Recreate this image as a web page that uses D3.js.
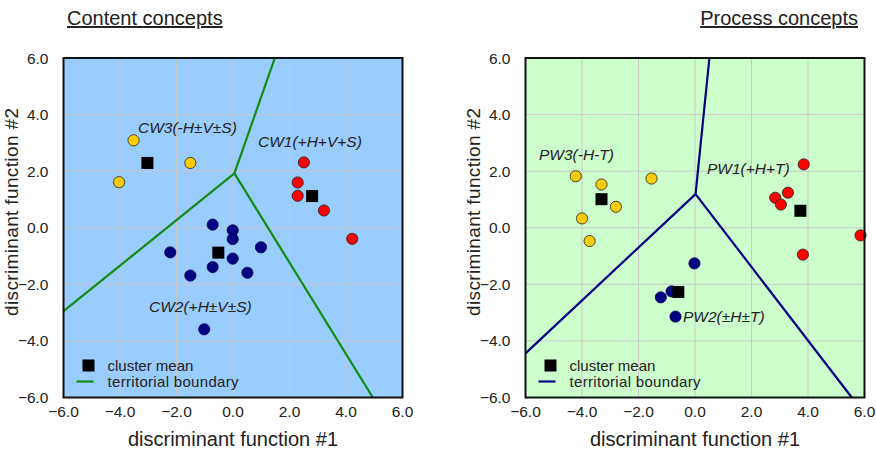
<!DOCTYPE html>
<html>
<head>
<meta charset="utf-8">
<script src="https://cdn.jsdelivr.net/npm/d3@7"></script>
<style>
  body { margin: 0; background: #fff; }
  text { font-family: "Liberation Sans", Arial, sans-serif; }
</style>
</head>
<body>
<script>
//size of the whole picture
var w = 876;
var h = 456;

//tick values, same on both axes
var ticks = [-6, -4, -2, 0, 2, 4, 6];

//content concepts (left panel)
var cw1 = [[2.51, 2.31], [2.29, 1.60], [2.29, 1.13], [3.22, 0.61], [4.22, -0.39]];
var cw2 = [[-0.72, 0.11], [-0.01, -0.09], [-0.01, -0.40], [0.99, -0.69], [-2.22, -0.87],
           [-0.72, -1.39], [-0.01, -1.09], [-1.51, -1.69], [0.51, -1.59], [-1.02, -3.59]];
var cw3 = [[-3.52, 3.09], [-1.51, 2.29], [-4.03, 1.61]];
var cwMeans = [[2.80, 1.12], [-0.52, -0.88], [-3.03, 2.29]];
var cwJunction = [0.05, 1.92];
var cwEnds = [[1.48, 6.0], [-6.0, -2.95], [4.95, -6.0]];
var cwLabels = ["CW1(+H+V+S)", "CW2(+H\u00b1V\u00b1S)", "CW3(-H\u00b1V\u00b1S)"];

//process concepts (right panel)
var pw1 = [[3.85, 2.24], [3.29, 1.24], [2.84, 1.06], [3.04, 0.82], [5.86, -0.27], [3.82, -0.95]];
var pw2 = [[-0.02, -1.26], [-0.83, -2.25], [-1.21, -2.46], [-0.69, -3.14]];
var pw3 = [[-4.22, 1.82], [-3.31, 1.53], [-1.54, 1.74], [-2.80, 0.74], [-4.0, 0.33], [-3.73, -0.47]];
var pwMeans = [[3.73, 0.60], [-0.59, -2.27], [-3.31, 1.01]];
var pwJunction = [0.02, 1.19];
var pwEnds = [[0.51, 6.0], [-6.0, -4.44], [5.55, -6.0]];
var pwLabels = ["PW1(+H+T)", "PW2(\u00b1H\u00b1T)", "PW3(-H-T)"];

//cluster colours: 1 red, 2 navy, 3 yellow
var dotColors = ["#ff0000", "#000080", "#ffcc00"];

var svg = d3.select("body")
            .append("svg")
            .attr("width", w)
            .attr("height", h);

function drawPanel(opt) {
    var xScale = d3.scaleLinear().domain([-6, 6]).range([opt.left, opt.left + 339]);
    var yScale = d3.scaleLinear().domain([-6, 6]).range([397.5, 58]);
    var g = svg.append("g");

    //background
    g.append("rect")
        .attr("x", xScale(-6)).attr("y", yScale(6))
        .attr("width", xScale(6) - xScale(-6))
        .attr("height", yScale(-6) - yScale(6))
        .attr("fill", opt.bg);

    //grid
    g.selectAll(".gx").data(ticks.slice(1, -1)).enter().append("line")
        .attr("x1", function(d) { return xScale(d); })
        .attr("x2", function(d) { return xScale(d); })
        .attr("y1", yScale(6)).attr("y2", yScale(-6))
        .attr("stroke", "#c8c8c8").attr("stroke-width", 1);
    g.selectAll(".gy").data(ticks.slice(1, -1)).enter().append("line")
        .attr("y1", function(d) { return yScale(d); })
        .attr("y2", function(d) { return yScale(d); })
        .attr("x1", xScale(-6)).attr("x2", xScale(6))
        .attr("stroke", "#c8c8c8").attr("stroke-width", 1);

    //territorial boundaries
    g.selectAll(".bound").data(opt.ends).enter().append("line")
        .attr("x1", xScale(opt.junction[0]))
        .attr("y1", yScale(opt.junction[1]))
        .attr("x2", function(d) { return xScale(d[0]); })
        .attr("y2", function(d) { return yScale(d[1]); })
        .attr("stroke", opt.lineColor)
        .attr("stroke-width", 2.2);

    //points
    opt.groups.forEach(function(pts, i) {
        g.selectAll(".p" + i).data(pts).enter().append("circle")
            .attr("cx", function(d) { return xScale(d[0]); })
            .attr("cy", function(d) { return yScale(d[1]); })
            .attr("r", 5.6)
            .attr("fill", dotColors[i])
            .attr("stroke", i == 1 ? "#000050" : "#222")
            .attr("stroke-width", 0.8);
    });

    //cluster means
    g.selectAll(".mean").data(opt.means).enter().append("rect")
        .attr("x", function(d) { return xScale(d[0]) - 6; })
        .attr("y", function(d) { return yScale(d[1]) - 6; })
        .attr("width", 12).attr("height", 12)
        .attr("fill", "#000");

    //cluster names
    g.selectAll(".lab").data(opt.labels).enter().append("text")
        .attr("x", function(d, i) { return opt.labelPos[i][0]; })
        .attr("y", function(d, i) { return opt.labelPos[i][1]; })
        .attr("font-size", 15.5)
        .attr("font-style", "italic")
        .attr("fill", "#222")
        .text(function(d) { return d; });

    //legend
    var lx = xScale(-6);
    g.append("rect").attr("x", lx + 19).attr("y", 359.5).attr("width", 12).attr("height", 12).attr("fill", "#000");
    g.append("line").attr("x1", lx + 13).attr("x2", lx + 30).attr("y1", 381.5).attr("y2", 381.5)
        .attr("stroke", opt.lineColor).attr("stroke-width", 2.2);
    g.append("text").attr("x", lx + 44).attr("y", 370.5).attr("font-size", 15).attr("fill", "#222").text("cluster mean");
    g.append("text").attr("x", lx + 44).attr("y", 386.5).attr("font-size", 15).attr("textLength", 131)
        .attr("fill", "#222").text("territorial boundary");

    //frame
    g.append("rect")
        .attr("x", xScale(-6)).attr("y", yScale(6))
        .attr("width", xScale(6) - xScale(-6))
        .attr("height", yScale(-6) - yScale(6))
        .attr("fill", "none")
        .attr("stroke", "#111").attr("stroke-width", 2);

    //tick labels
    g.selectAll(".tx").data(ticks).enter().append("text")
        .attr("x", function(d) { return xScale(d); })
        .attr("y", 417)
        .attr("text-anchor", "middle")
        .attr("font-size", 15.5).attr("fill", "#222")
        .text(function(d) { return d3.format(".1f")(d); });
    g.selectAll(".ty").data(ticks).enter().append("text")
        .attr("x", xScale(-6) - 15)
        .attr("y", function(d) { return yScale(d) + 5.5; })
        .attr("text-anchor", "end")
        .attr("font-size", 15.5).attr("fill", "#222")
        .text(function(d) { return d3.format(".1f")(d); });

    //axis titles
    g.append("text")
        .attr("x", xScale(0))
        .attr("y", 446)
        .attr("text-anchor", "middle")
        .attr("font-size", 20).attr("fill", "#222")
        .text("discriminant function #1");
    g.append("text")
        .attr("transform", "translate(" + (opt.left - 45.5) + ",212) rotate(-90)")
        .attr("text-anchor", "middle")
        .attr("font-size", 19).attr("textLength", 208)
        .attr("fill", "#222")
        .text("discriminant function #2");

    //panel title
    g.append("text")
        .attr("x", opt.titleX)
        .attr("y", 25)
        .attr("text-anchor", opt.titleAnchor)
        .attr("font-size", 20).attr("fill", "#222")
        .attr("text-decoration", "underline")
        .text(opt.title);
}

drawPanel({
    left: 63.5, bg: "#99ccff", lineColor: "#138a13",
    groups: [cw1, cw2, cw3], means: cwMeans,
    junction: cwJunction, ends: cwEnds,
    labels: cwLabels, labelPos: [[258, 147], [149, 312], [138, 133]],
    title: "Content concepts", titleX: 67, titleAnchor: "start"
});

drawPanel({
    left: 525.5, bg: "#ccffcc", lineColor: "#000080",
    groups: [pw1, pw2, pw3], means: pwMeans,
    junction: pwJunction, ends: pwEnds,
    labels: pwLabels, labelPos: [[707, 174], [683, 322], [539, 160]],
    title: "Process concepts", titleX: 858, titleAnchor: "end"
});
</script>
</body>
</html>
